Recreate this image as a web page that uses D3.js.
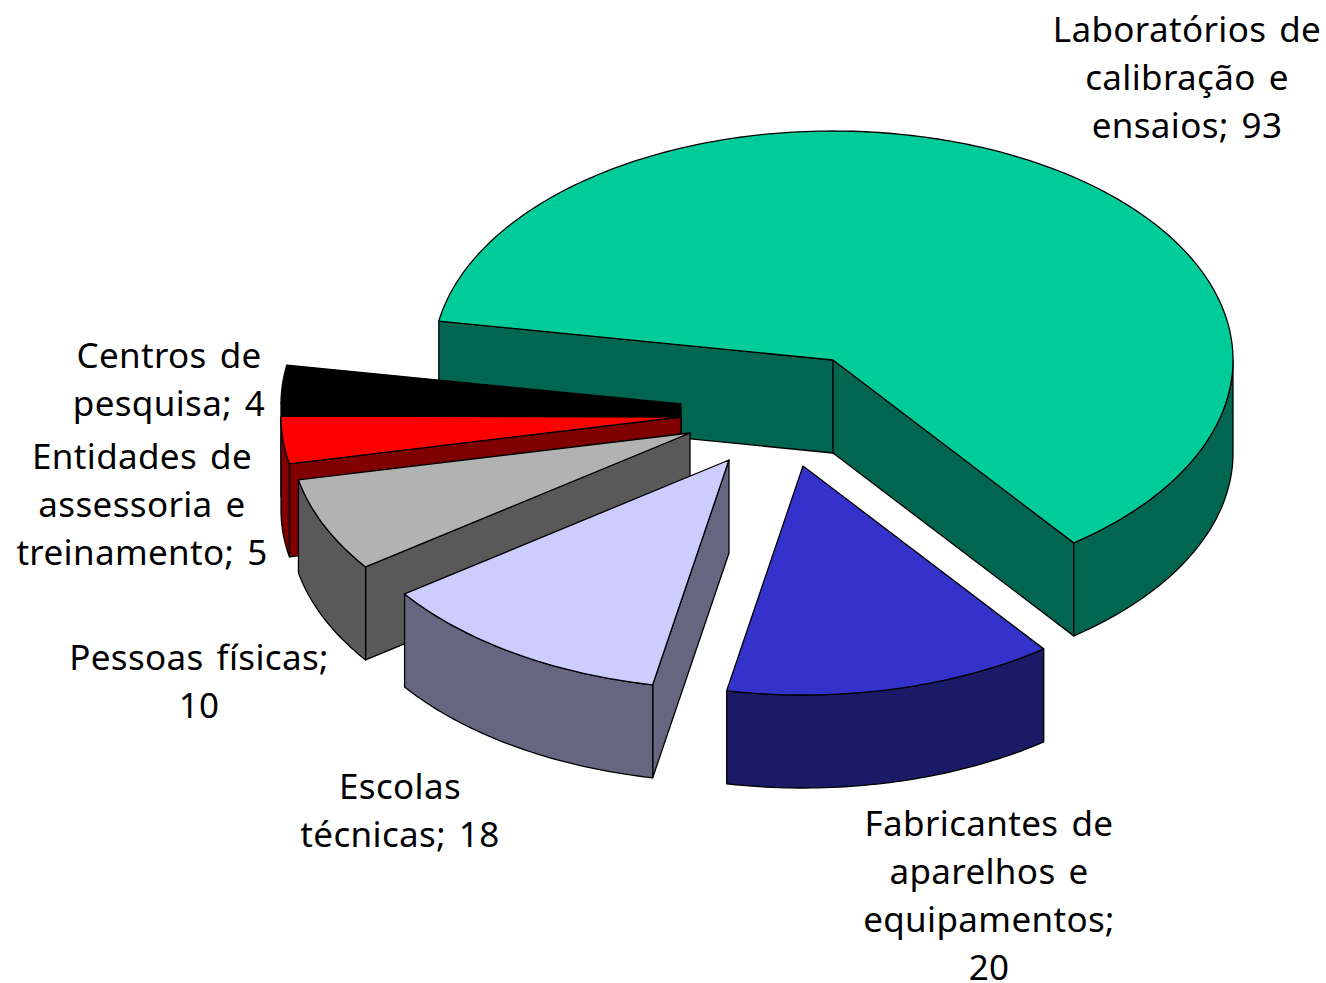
<!DOCTYPE html>
<html><head><meta charset="utf-8">
<script src="https://cdn.jsdelivr.net/npm/d3@7/dist/d3.min.js"></script>
<style>html,body{margin:0;padding:0;background:#fff;overflow:hidden}svg{display:block}</style>
</head><body>
<script>
const categories = ["Laboratórios de calibração e ensaios","Fabricantes de aparelhos e equipamentos","Escolas técnicas","Pessoas físicas","Entidades de assessoria e treinamento","Centros de pesquisa"];
const values = [93,20,18,10,5,4];
const topColors = ["#00CC99","#3333CC","#CCCCFF","#B2B2B2","#FF0000","#000000"];
const sideColors = ["#006650","#1A1A66","#666680","#595959","#800000","#000000"];
const labelLines = [["Laboratórios de","calibração e","ensaios; 93"],["Fabricantes de","aparelhos e","equipamentos;","20"],["Escolas","técnicas; 18"],["Pessoas físicas;","10"],["Entidades de","assessoria e","treinamento; 5"],["Centros de","pesquisa; 4"]];
const W=1326,H=983,rx=400,ry=229,depth=93,cx=833,cy=360;
const apexShift=[[0,0],[-30,106],[-104,100],[-143,73],[-152,57],[-152,44]];
const labelAnchor=[[1187,42],[989,836],[400,799],[199,670],[142,469],[169,368]];
const drawOrder=[0,5,4,3,2,1];
const lh=48;
const svg=d3.select("body").append("svg").attr("width",W).attr("height",H);
const start=-80.2*Math.PI/180;
const pie=d3.pie().sort(null).startAngle(start).endAngle(start+2*Math.PI);
const arcs=pie(values);
const P=(a,ox,oy,dz=0)=>[ox+rx*Math.sin(a),oy-ry*Math.cos(a)+dz];
const line=d3.line();
function arcPts(a0,a1,ox,oy,dz){const n=Math.max(2,Math.ceil((a1-a0)*60));return d3.range(n+1).map(i=>P(a0+(a1-a0)*i/n,ox,oy,dz));}
const face=(pts,fill)=>svg.append("path").attr("d",line(pts)+"Z").attr("fill",fill).attr("stroke","#000").attr("stroke-width",1.3).attr("stroke-linejoin","round");
drawOrder.forEach(i=>{
  const d=arcs[i];
  const ox=cx+apexShift[i][0],oy=cy+apexShift[i][1];
  const a0=d.startAngle,a1=d.endAngle,s=sideColors[i];
  const ap=[ox,oy],apd=[ox,oy+depth];
  if(Math.sin(a0)<0) face([ap,P(a0,ox,oy),P(a0,ox,oy,depth),apd],s);
  if(Math.sin(a1)>0) face([ap,P(a1,ox,oy),P(a1,ox,oy,depth),apd],s);
  const w0=Math.max(a0,Math.PI/2),w1=Math.min(a1,Math.PI*1.5);
  if(w1>w0) face(arcPts(w0,w1,ox,oy,0).concat(arcPts(w0,w1,ox,oy,depth).reverse()),s);
  face([ap].concat(arcPts(a0,a1,ox,oy,0)),topColors[i]);
});
labelLines.forEach((ls,i)=>{
  const t=svg.append("text").attr("text-anchor","middle").attr("font-family","'Noto Sans',sans-serif").attr("font-size",35).attr("letter-spacing",0.35).attr("word-spacing",3.5).attr("fill","#000");
  ls.forEach((l,j)=>t.append("tspan").attr("x",labelAnchor[i][0]).attr("y",labelAnchor[i][1]+j*lh).text(l));
});
</script>
</body></html>
